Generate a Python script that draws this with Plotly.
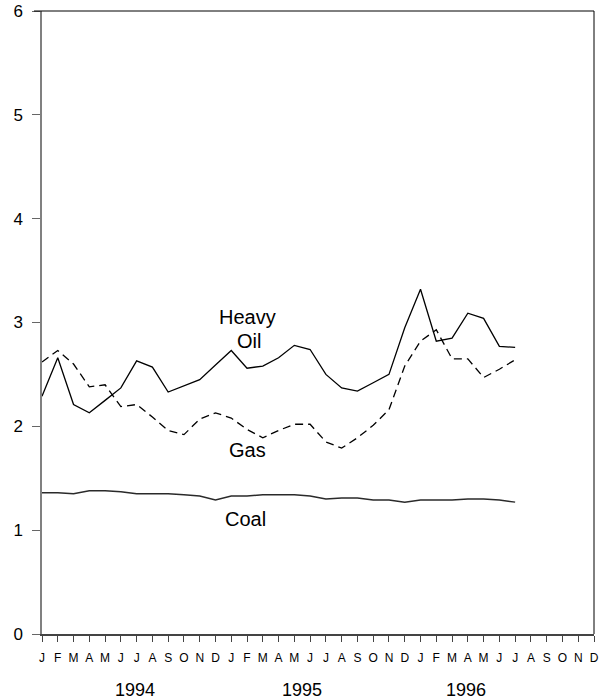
import plotly.graph_objects as go

month_letters = ["J", "F", "M", "A", "M", "J", "J", "A", "S", "O", "N", "D"] * 3
months = list(range(36))
data_months = list(range(31))  # Jan 1994 .. Jul 1996

heavy_oil = [2.29, 2.66, 2.21, 2.13, 2.25, 2.37, 2.63, 2.57, 2.33, 2.39, 2.45, 2.59,
             2.73, 2.56, 2.58, 2.66, 2.78, 2.74, 2.50, 2.37, 2.34, 2.42, 2.50, 2.95,
             3.32, 2.82, 2.85, 3.09, 3.04, 2.77, 2.76]
gas = [2.62, 2.73, 2.60, 2.38, 2.40, 2.19, 2.21, 2.09, 1.96, 1.92, 2.07, 2.13,
       2.08, 1.97, 1.89, 1.96, 2.02, 2.02, 1.85, 1.79, 1.89, 2.01, 2.16, 2.58,
       2.82, 2.93, 2.65, 2.65, 2.47, 2.55, 2.64]
coal = [1.36, 1.36, 1.35, 1.38, 1.38, 1.37, 1.35, 1.35, 1.35, 1.34, 1.33, 1.29,
        1.33, 1.33, 1.34, 1.34, 1.34, 1.33, 1.30, 1.31, 1.31, 1.29, 1.29, 1.27,
        1.29, 1.29, 1.29, 1.30, 1.30, 1.29, 1.27]

years = ["1994", "1995", "1996"]
year_pos = [5.9, 16.5, 26.9]

series_labels = [("Heavy", 13.05, 3.05), ("Oil", 13.15, 2.82), ("Gas", 13.05, 1.77), ("Coal", 12.9, 1.11)]

FONT = "Liberation Sans, Arial, sans-serif"

fig = go.Figure()
fig.add_trace(go.Scatter(x=data_months, y=heavy_oil, mode="lines",
                         line=dict(color="black", width=1.3), name="Heavy Oil"))
fig.add_trace(go.Scatter(x=data_months, y=gas, mode="lines",
                         line=dict(color="black", width=1.3, dash="8px,5px"), name="Gas"))
fig.add_trace(go.Scatter(x=data_months, y=coal, mode="lines",
                         line=dict(color="#2a2a2a", width=1.5), name="Coal"))

annotations = []
for txt, xm, yv in series_labels:
    annotations.append(dict(x=xm, y=yv, text=txt, showarrow=False, xref="x", yref="y",
                            font=dict(size=20, color="black", family=FONT)))
for yr, xp in zip(years, year_pos):
    annotations.append(dict(x=xp, y=0, xref="x", yref="paper", text=yr, showarrow=False,
                            yanchor="middle", yshift=-56,
                            font=dict(size=18, color="black", family=FONT)))

fig.update_layout(
    width=610, height=700,
    margin=dict(l=42, r=16, t=11, b=66, autoexpand=False),
    paper_bgcolor="white", plot_bgcolor="white",
    showlegend=False,
    font=dict(family=FONT, color="black"),
    annotations=annotations,
    shapes=[
        dict(type="line", xref="paper", yref="paper", x0=-0.0145, x1=1, y0=1, y1=1,
             line=dict(color="black", width=1)),
        dict(type="line", xref="paper", yref="paper", x0=1, x1=1, y0=0, y1=1,
             line=dict(color="black", width=1)),
    ],
    xaxis=dict(range=[0, 35], tickmode="array", tickvals=months, ticktext=month_letters,
               ticks="outside", ticklen=6, tickcolor="#444444", tickwidth=1,
               showline=True, linecolor="#444444", linewidth=1.5,
               showgrid=False, zeroline=False, automargin=False,
               ticklabelstandoff=6,
               tickfont=dict(size=12, family=FONT, color="black")),
    yaxis=dict(range=[0, 6], tickmode="array", tickvals=[0, 1, 2, 3, 4, 5, 6],
               ticks="outside", ticklen=8, tickcolor="#666666", tickwidth=1,
               showline=True, linecolor="#808080", linewidth=1.5,
               showgrid=False, zeroline=False, automargin=False,
               ticklabelstandoff=6,
               tickfont=dict(size=17, family=FONT, color="black")),
)

fig.write_html("out.html", config={"displayModeBar": False},
               post_script="document.body.style.margin='0';document.body.style.overflow='hidden';")
